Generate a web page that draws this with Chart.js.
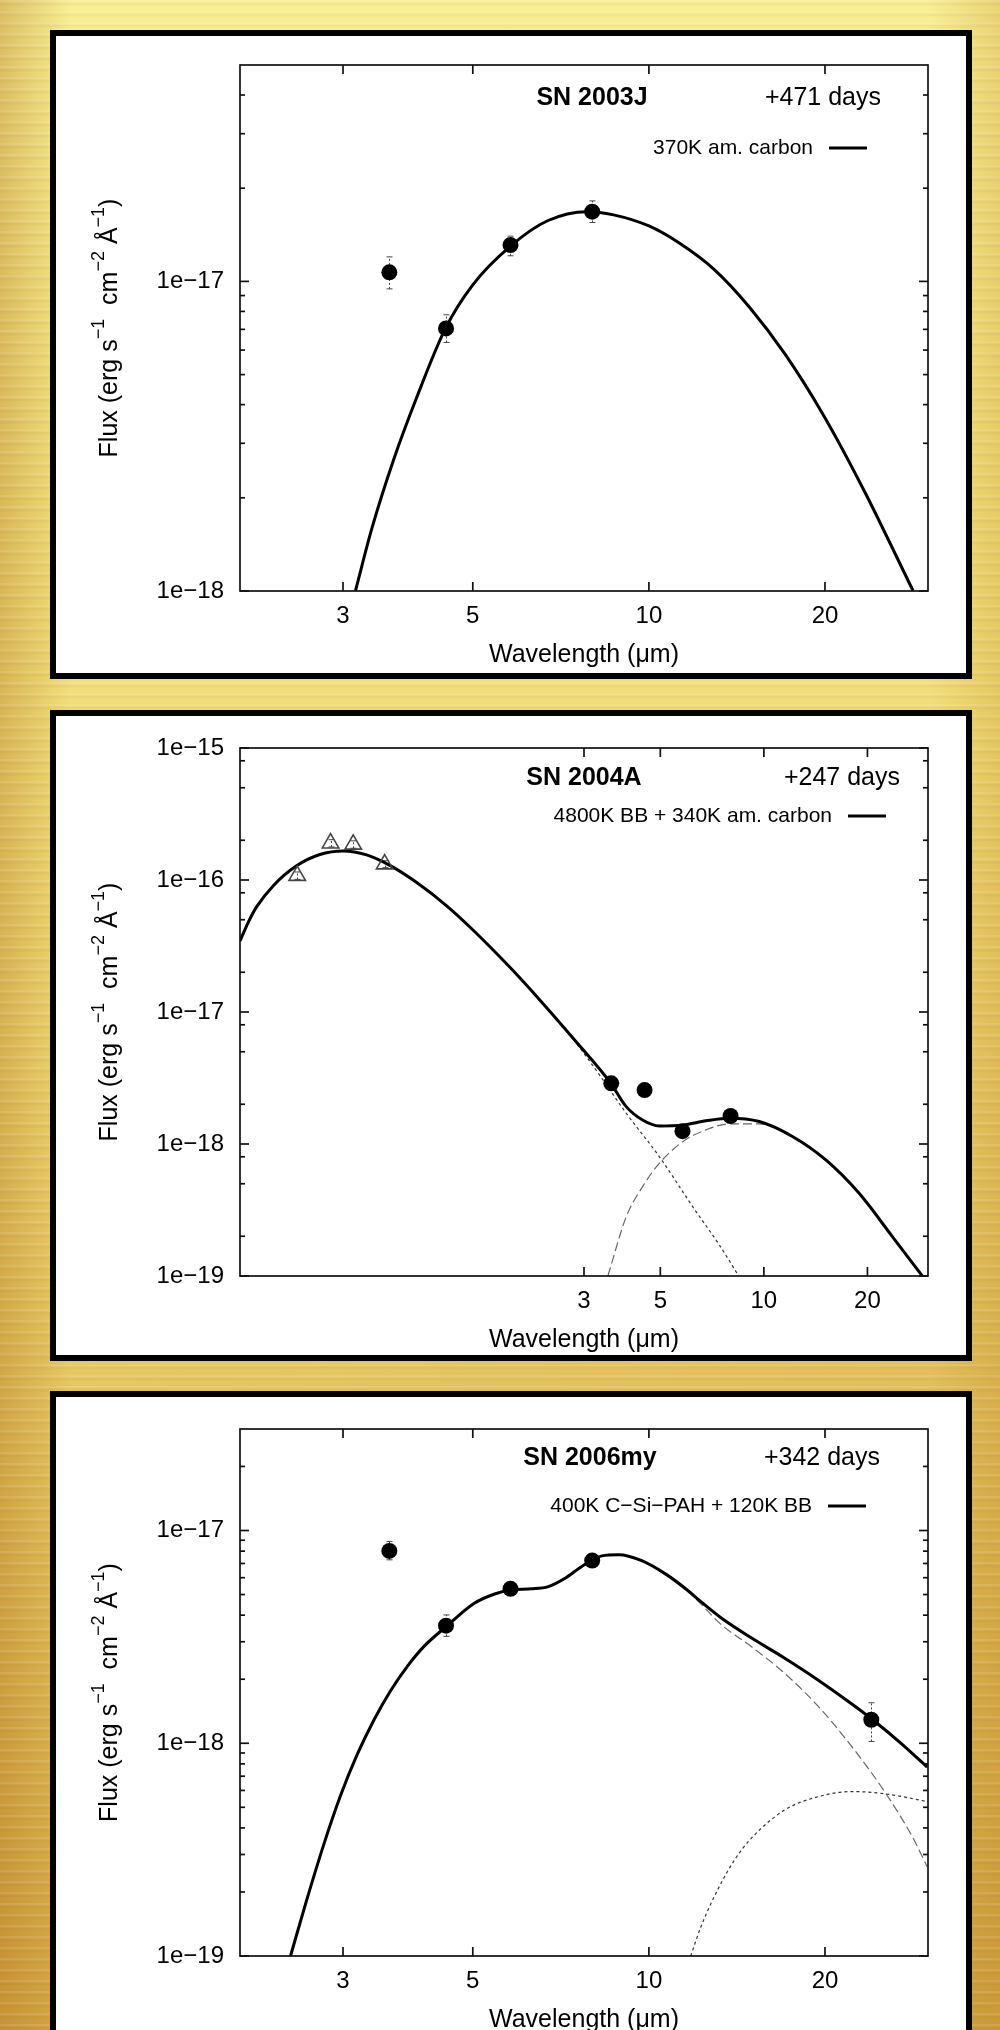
<!DOCTYPE html>
<html>
<head>
<meta charset="utf-8">
<title>SED fits</title>
<script src="https://cdn.jsdelivr.net/npm/chart.js@4.4.1/dist/chart.umd.min.js"></script>
<style>
    html, body { margin: 0; padding: 0; }
    body {
        width: 1000px;
        height: 2030px;
        overflow: hidden;
        position: relative;
        background:
            repeating-linear-gradient(180deg, rgba(255,255,255,0.10) 0px, rgba(255,255,255,0.10) 2px, rgba(120,80,0,0.05) 3px, rgba(120,80,0,0.05) 5px, rgba(255,255,255,0) 6px, rgba(255,255,255,0) 11px),
            linear-gradient(90deg, rgba(170,105,20,0.35) 0%, rgba(170,105,20,0.0) 7%, rgba(0,0,0,0) 93%, rgba(190,130,30,0.25) 100%),
            linear-gradient(160deg, rgba(0,0,0,0) 45%, rgba(160,95,15,0.30) 100%),
            linear-gradient(180deg, #f8ee92 0%, #f3e27c 25%, #efd872 50%, #ebcd66 75%, #e3bd56 100%);
    }
    .panel {
        position: absolute;
        left: 50px;
        width: 910px;
        border: 6px solid #000;
        background: #fff;
    }
    .panel canvas { display: block; }
</style>
</head>
<body>
<div class="panel" style="top:30px;height:637px"><canvas id="chart_sn2003j" width="910" height="637" style="width:910px;height:637px"></canvas></div>
<div class="panel" style="top:710px;height:639px"><canvas id="chart_sn2004a" width="910" height="639" style="width:910px;height:639px"></canvas></div>
<div class="panel" style="top:1391px;height:639px"><canvas id="chart_sn2006my" width="910" height="639" style="width:910px;height:639px"></canvas></div>

<script>
"use strict";

// Shared axis ticks
var xTickValues = [3, 5, 10, 20];
var xTickLabels = ['3', '5', '10', '20'];

// SN 2003J, +471 days: IRAC photometry
var sn03jWave = [3.6, 4.5, 5.8, 8.0];
var sn03jFlux = [1.07e-17, 7.05e-18, 1.31e-17, 1.68e-17];
var sn03jFluxLo = [9.46e-18, 6.35e-18, 1.21e-17, 1.55e-17];
var sn03jFluxHi = [1.20e-17, 7.8e-18, 1.40e-17, 1.82e-17];
// 370K amorphous carbon fit
var sn03jFitWave = [3.15, 3.36, 3.66, 4.00, 4.49, 5.00, 5.80, 6.71, 7.84, 8.70, 10.0, 11.27, 12.95, 14.87, 17.08, 19.96, 23.3, 28.3];
var sn03jFitFlux = [1.0e-18, 1.59e-18, 2.65e-18, 4.17e-18, 7.05e-18, 9.75e-18, 1.30e-17, 1.57e-17, 1.68e-17, 1.64e-17, 1.51e-17, 1.33e-17, 1.09e-17, 8.24e-18, 5.83e-18, 3.65e-18, 2.12e-18, 1.0e-18];
var sn03jYTicks = [1e-18, 1e-17];
var sn03jYLabels = ['1e\u221218', '1e\u221217'];

// SN 2004A, +247 days: optical (triangles) + IRAC (dots)
var sn04aOptWave = [0.44, 0.55, 0.64, 0.79];
var sn04aOptFlux = [1.08e-16, 1.90e-16, 1.86e-16, 1.32e-16];
var sn04aOptLo = [1.01e-16, 1.78e-16, 1.74e-16, 1.24e-16];
var sn04aOptHi = [1.15e-16, 2.02e-16, 1.98e-16, 1.40e-16];
var sn04aWave = [3.6, 4.5, 5.8, 8.0];
var sn04aFlux = [2.88e-18, 2.56e-18, 1.25e-18, 1.63e-18];
var sn04aFluxLo = [2.65e-18, 2.45e-18, 1.15e-18, 1.55e-18];
var sn04aFluxHi = [3.10e-18, 2.68e-18, 1.36e-18, 1.72e-18];
// 4800K BB + 340K am. carbon (total)
var sn04aFitWave = [0.300, 0.317, 0.3355, 0.375, 0.438, 0.512, 0.598, 0.700, 0.818, 0.977, 1.194, 1.427, 1.827, 2.228, 2.797, 3.58, 3.98, 4.44, 4.97, 5.81, 6.79, 7.93, 9.70, 12.11, 15.14, 18.92, 23.63, 28.88];
var sn04aFitFlux = [3.45e-17, 4.78e-17, 6.28e-17, 9.06e-17, 1.28e-16, 1.56e-16, 1.66e-16, 1.55e-16, 1.29e-16, 9.6e-17, 6.40e-17, 4.18e-17, 2.18e-17, 1.24e-17, 6.28e-18, 2.91e-18, 1.92e-18, 1.52e-18, 1.37e-18, 1.39e-18, 1.50e-18, 1.57e-18, 1.48e-18, 1.14e-18, 7.57e-19, 4.23e-19, 1.99e-19, 1.0e-19];
// components
var sn04aBBWave = [2.80, 3.33, 3.98, 4.97, 6.21, 7.42, 8.45];
var sn04aBBFlux = [6.2e-18, 3.33e-18, 1.71e-18, 8.0e-19, 3.35e-19, 1.72e-19, 1.0e-19];
var sn04aCarbWave = [3.52, 3.98, 4.44, 4.97, 5.81, 6.79, 7.93, 9.70, 12.11, 15.14, 18.92, 23.63, 28.88];
var sn04aCarbFlux = [1.0e-19, 2.81e-19, 4.75e-19, 7.15e-19, 1.04e-18, 1.28e-18, 1.42e-18, 1.42e-18, 1.13e-18, 7.5e-19, 4.2e-19, 1.98e-19, 1.0e-19];
var sn04aYTicks = [1e-19, 1e-18, 1e-17, 1e-16, 1e-15];
var sn04aYLabels = ['1e\u221219', '1e\u221218', '1e\u221217', '1e\u221216', '1e\u221215'];

// SN 2006my, +342 days: IRAC + MIPS 24um
var sn06myWave = [3.6, 4.5, 5.8, 8.0, 24.0];
var sn06myFlux = [8.02e-18, 3.57e-18, 5.32e-18, 7.22e-18, 1.29e-18];
var sn06myFluxLo = [7.28e-18, 3.18e-18, 5.1e-18, 6.95e-18, 1.02e-18];
var sn06myFluxHi = [8.88e-18, 4.01e-18, 5.55e-18, 7.50e-18, 1.55e-18];
// 400K C-Si-PAH + 120K BB (total)
var sn06myFitWave = [2.44, 2.60, 2.78, 2.97, 3.17, 3.39, 3.62, 3.87, 4.13, 4.51, 5.03, 5.45, 5.82, 6.30, 6.73, 7.19, 7.68, 8.31, 8.88, 9.70, 10.75, 11.64, 12.27, 13.28, 14.96, 17.07, 19.48, 22.23, 24.13, 27.1, 29.9];
var sn06myFitFlux = [1.0e-19, 1.83e-19, 3.33e-19, 5.66e-19, 8.81e-19, 1.29e-18, 1.77e-18, 2.31e-18, 2.86e-18, 3.55e-18, 4.55e-18, 5.03e-18, 5.26e-18, 5.32e-18, 5.45e-18, 5.97e-18, 6.78e-18, 7.60e-18, 7.69e-18, 7.23e-18, 6.17e-18, 5.24e-18, 4.63e-18, 3.89e-18, 3.13e-18, 2.51e-18, 1.98e-18, 1.53e-18, 1.29e-18, 9.89e-19, 7.73e-19];
// components
var sn06myPahWave = [11.64, 12.27, 13.28, 14.96, 17.07, 19.48, 22.23, 25.4, 28.2, 29.9];
var sn06myPahFlux = [5.24e-18, 4.52e-18, 3.62e-18, 2.85e-18, 2.13e-18, 1.49e-18, 9.64e-19, 5.82e-19, 3.64e-19, 2.63e-19];
var sn06myBBWave = [11.79, 12.27, 13.1, 14.0, 14.96, 17.07, 19.48, 22.23, 25.4, 29.9];
var sn06myBBFlux = [1.0e-19, 1.37e-19, 2.04e-19, 2.82e-19, 3.57e-19, 4.86e-19, 5.61e-19, 5.93e-19, 5.78e-19, 5.32e-19];
var sn06myYTicks = [1e-19, 1e-18, 1e-17];
var sn06myYLabels = ['1e\u221219', '1e\u221218', '1e\u221217'];

var FONT = '"Liberation Sans", Arial, Helvetica, sans-serif';

var toPoints = function (xs, ys) {
    return xs.map(function (x, i) { return { x: x, y: ys[i] }; });
};

// Observed photometry: black dots (or open triangles) with error bars
var obsSet = function (xs, ys, lo, hi, style) {
    var triangle = style === 'triangle';
    return {
        data: toPoints(xs, ys),
        errLow: lo,
        errHigh: hi,
        showLine: false,
        pointStyle: triangle ? 'triangle' : 'circle',
        pointRadius: triangle ? 9.5 : 8,
        pointBorderWidth: triangle ? 1.6 : 0,
        pointBackgroundColor: triangle ? 'rgba(255,255,255,0)' : '#000',
        pointBorderColor: triangle ? '#444' : '#000'
    };
};

// Model curves
var fitSet = function (xs, ys, kind) {
    var ds = {
        data: toPoints(xs, ys),
        showLine: true,
        pointRadius: 0,
        cubicInterpolationMode: 'monotone',
        borderColor: '#000',
        borderWidth: 3
    };
    if (kind === 'dot') {
        ds.borderColor = '#333';
        ds.borderWidth = 1.2;
        ds.borderDash = [3, 3];
    } else if (kind === 'dash') {
        ds.borderColor = '#666';
        ds.borderWidth = 1.2;
        ds.borderDash = [9, 4];
    }
    return ds;
};

var drawYTitle = function (ctx, x, y, size) {
    var parts = [
        { t: 'Flux (erg s' }, { t: '\u22121', sup: true },
        { t: '  cm' }, { t: '\u22122', sup: true },
        { t: ' \u00c5' }, { t: '\u22121', sup: true },
        { t: ')' }
    ];
    var supSize = Math.round(size * 0.72);
    var total = 0;
    ctx.save();
    parts.forEach(function (p) {
        ctx.font = (p.sup ? supSize : size) + 'px ' + FONT;
        total += ctx.measureText(p.t).width;
    });
    ctx.translate(x, y);
    ctx.rotate(-Math.PI / 2);
    ctx.textBaseline = 'middle';
    ctx.textAlign = 'left';
    ctx.fillStyle = '#000';
    var cx = -total / 2;
    parts.forEach(function (p) {
        ctx.font = (p.sup ? supSize : size) + 'px ' + FONT;
        ctx.fillText(p.t, cx, p.sup ? -size * 0.42 : 0);
        cx += ctx.measureText(p.t).width;
    });
    ctx.restore();
};

// Frame, inward ticks, labels and annotations in gnuplot style
var sedFrame = {
    id: 'sedFrame',
    beforeDatasetsDraw: function (chart) {
        var ctx = chart.ctx, xs = chart.scales.x, ys = chart.scales.y, a = chart.chartArea;
        ctx.save();
        ctx.beginPath();
        ctx.rect(a.left, a.top, a.right - a.left, a.bottom - a.top);
        ctx.clip();
        ctx.strokeStyle = '#444';
        ctx.lineWidth = 1;
        chart.data.datasets.forEach(function (ds) {
            if (!ds.errLow) return;
            ds.data.forEach(function (pt, i) {
                var px = Math.round(xs.getPixelForValue(pt.x)) + 0.5;
                var lo = ys.getPixelForValue(ds.errLow[i]);
                var hi = ys.getPixelForValue(ds.errHigh[i]);
                ctx.setLineDash([2, 2]);
                ctx.beginPath();
                ctx.moveTo(px, lo);
                ctx.lineTo(px, hi);
                ctx.stroke();
                ctx.setLineDash([]);
                ctx.beginPath();
                ctx.moveTo(px - 3, lo); ctx.lineTo(px + 3, lo);
                ctx.moveTo(px - 3, hi); ctx.lineTo(px + 3, hi);
                ctx.stroke();
            });
        });
        ctx.restore();
    },
    afterDatasetsDraw: function (chart, args, opts) {
        var ctx = chart.ctx, xs = chart.scales.x, ys = chart.scales.y, a = chart.chartArea;
        var line = function (x1, y1, x2, y2) {
            ctx.beginPath();
            ctx.moveTo(x1, y1);
            ctx.lineTo(x2, y2);
            ctx.stroke();
        };
        ctx.save();
        ctx.strokeStyle = '#111';
        ctx.lineWidth = 1.7;
        ctx.strokeRect(a.left, a.top, a.right - a.left, a.bottom - a.top);

        // y major + minor ticks, both sides
        opts.yTicks.forEach(function (v) {
            var py = ys.getPixelForValue(v);
            line(a.left, py, a.left + 9, py);
            line(a.right, py, a.right - 9, py);
        });
        var dMin = Math.floor(Math.log10(ys.min) + 1e-9), dMax = Math.ceil(Math.log10(ys.max) - 1e-9);
        for (var d = dMin; d < dMax; d++) {
            opts.yMinor.forEach(function (m) {
                var v = m * Math.pow(10, d);
                if (v <= ys.min || v >= ys.max) return;
                var py = ys.getPixelForValue(v);
                line(a.left, py, a.left + 5, py);
                line(a.right, py, a.right - 5, py);
            });
        }
        // x ticks, bottom and top
        xTickValues.forEach(function (v) {
            var px = xs.getPixelForValue(v);
            line(px, a.bottom, px, a.bottom - 9);
            line(px, a.top, px, a.top + 9);
        });

        ctx.fillStyle = '#000';
        ctx.font = '24px ' + FONT;
        ctx.textAlign = 'right';
        ctx.textBaseline = 'middle';
        opts.yTicks.forEach(function (v, i) {
            ctx.fillText(opts.yLabels[i], a.left - 16, ys.getPixelForValue(v));
        });
        ctx.textAlign = 'center';
        xTickValues.forEach(function (v, i) {
            ctx.fillText(xTickLabels[i], xs.getPixelForValue(v), a.bottom + 25);
        });
        ctx.font = '25px ' + FONT;
        ctx.fillText('Wavelength (\u03bcm)', (a.left + a.right) / 2, a.bottom + 64);
        drawYTitle(ctx, a.left - 130, (a.top + a.bottom) / 2, 25);

        // object name, epoch, legend
        ctx.font = 'bold 25px ' + FONT;
        ctx.textAlign = 'center';
        ctx.fillText(opts.name, a.left + opts.nameX, a.top + opts.nameY);
        ctx.font = '25px ' + FONT;
        ctx.textAlign = 'right';
        ctx.fillText(opts.epoch, a.left + opts.epochRight, a.top + opts.nameY);
        ctx.font = '21px ' + FONT;
        ctx.fillText(opts.legend, a.left + opts.legendRight, a.top + opts.legendY);
        ctx.lineWidth = 3;
        ctx.strokeStyle = '#000';
        line(a.left + opts.legendRight + 16, a.top + opts.legendY, a.left + opts.legendRight + 54, a.top + opts.legendY);
        ctx.restore();
    }
};

var buildChart = function (canvasId, cfg) {
    var canvas = document.getElementById(canvasId);
    if (!canvas) return null;
    return new Chart(canvas.getContext('2d'), {
        type: 'scatter',
        data: { datasets: cfg.datasets },
        options: {
            responsive: false,
            animation: false,
            devicePixelRatio: 1,
            layout: { padding: cfg.padding },
            plugins: {
                legend: { display: false },
                tooltip: { enabled: false },
                sedFrame: cfg.frame
            },
            scales: {
                x: { type: 'logarithmic', min: cfg.xMin, max: cfg.xMax, display: false },
                y: { type: 'logarithmic', min: cfg.yMin, max: cfg.yMax, display: false }
            }
        },
        plugins: [sedFrame]
    });
};

// SN 2003J
buildChart('chart_sn2003j', {
    padding: { left: 184, right: 38, top: 29, bottom: 82 },
    xMin: 2, xMax: 30, yMin: 1e-18, yMax: 5e-17,
    datasets: [
        obsSet(sn03jWave, sn03jFlux, sn03jFluxLo, sn03jFluxHi),
        fitSet(sn03jFitWave, sn03jFitFlux, 'solid')
    ],
    frame: {
        yTicks: sn03jYTicks, yLabels: sn03jYLabels, yMinor: [2, 3, 4, 5, 6, 7, 8, 9],
        name: 'SN 2003J', epoch: '+471 days', legend: '370K am. carbon',
        nameX: 352, nameY: 33, epochRight: 641, legendRight: 573, legendY: 83
    }
});

// SN 2004A
buildChart('chart_sn2004a', {
    padding: { left: 184, right: 38, top: 32, bottom: 79 },
    xMin: 0.3, xMax: 30, yMin: 1e-19, yMax: 1e-15,
    datasets: [
        obsSet(sn04aWave, sn04aFlux, sn04aFluxLo, sn04aFluxHi),
        obsSet(sn04aOptWave, sn04aOptFlux, sn04aOptLo, sn04aOptHi, 'triangle'),
        fitSet(sn04aFitWave, sn04aFitFlux, 'solid'),
        fitSet(sn04aBBWave, sn04aBBFlux, 'dot'),
        fitSet(sn04aCarbWave, sn04aCarbFlux, 'dash')
    ],
    frame: {
        yTicks: sn04aYTicks, yLabels: sn04aYLabels, yMinor: [2, 5, 8],
        name: 'SN 2004A', epoch: '+247 days', legend: '4800K BB + 340K am. carbon',
        nameX: 344, nameY: 30, epochRight: 660, legendRight: 592, legendY: 68
    }
});

// SN 2006my
buildChart('chart_sn2006my', {
    padding: { left: 184, right: 38, top: 32, bottom: 80 },
    xMin: 2, xMax: 30, yMin: 1e-19, yMax: 3e-17,
    datasets: [
        obsSet(sn06myWave, sn06myFlux, sn06myFluxLo, sn06myFluxHi),
        fitSet(sn06myFitWave, sn06myFitFlux, 'solid'),
        fitSet(sn06myPahWave, sn06myPahFlux, 'dash'),
        fitSet(sn06myBBWave, sn06myBBFlux, 'dot')
    ],
    frame: {
        yTicks: sn06myYTicks, yLabels: sn06myYLabels, yMinor: [2, 3, 4, 5, 6, 7, 8, 9],
        name: 'SN 2006my', epoch: '+342 days', legend: '400K C\u2212Si\u2212PAH + 120K BB',
        nameX: 350, nameY: 29, epochRight: 640, legendRight: 572, legendY: 77
    }
});
</script>
</body>
</html>
